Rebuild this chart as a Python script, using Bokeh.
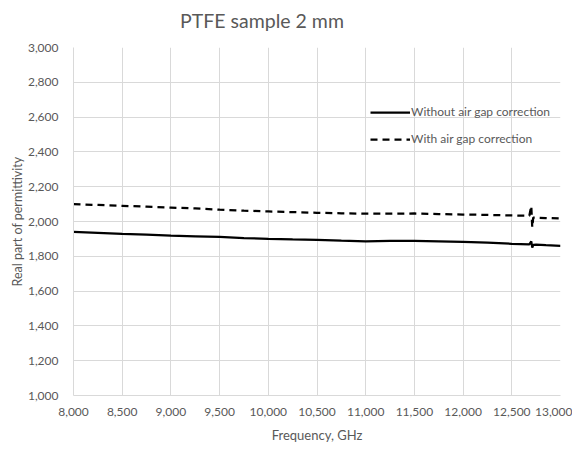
from bokeh.plotting import figure
from bokeh.embed import file_html
from bokeh.resources import INLINE
from bokeh.models import FixedTicker, Legend, LegendItem, Range1d, Div
from bokeh.layouts import column

# ---- data ----
freq = [8.0, 8.25, 8.5, 8.75, 9.0, 9.25, 9.5, 9.75, 10.0, 10.25, 10.5, 10.75,
        11.0, 11.25, 11.5, 11.75, 12.0, 12.25, 12.5, 12.68, 12.70, 12.71, 12.72,
        12.75, 12.85, 13.0]
without_corr = [1.940, 1.935, 1.929, 1.924, 1.919, 1.915, 1.911, 1.905, 1.900,
                1.897, 1.895, 1.890, 1.886, 1.888, 1.889, 1.886, 1.883, 1.878,
                1.872, 1.869, 1.886, 1.850, 1.866, 1.867, 1.864, 1.860]
with_corr = [2.100, 2.095, 2.090, 2.085, 2.080, 2.075, 2.068, 2.062, 2.058,
             2.054, 2.050, 2.047, 2.045, 2.045, 2.046, 2.043, 2.040, 2.038,
             2.035, 2.033, 2.090, 1.966, 2.022, 2.022, 2.020, 2.017]

x_ticks = [8.0, 8.5, 9.0, 9.5, 10.0, 10.5, 11.0, 11.5, 12.0, 12.5, 13.0]
x_labels = ["8,000", "8,500", "9,000", "9,500", "10,000", "10,500", "11,000",
            "11,500", "12,000", "12,500", "13,000"]
y_ticks = [1.0, 1.2, 1.4, 1.6, 1.8, 2.0, 2.2, 2.4, 2.6, 2.8, 3.0]
y_labels = ["1,000", "1,200", "1,400", "1,600", "1,800", "2,000", "2,200",
            "2,400", "2,600", "2,800", "3,000"]

title_text = "PTFE sample 2 mm"
x_title = "Frequency, GHz"
y_title = "Real part of permittivity"
series_names = ["Without air gap correction", "With air gap correction"]

FONT = "Lato"
GRAY = "#595959"
GRID = "#d9d9d9"
W = 572
TITLE_H = 39
H = 445 - TITLE_H

title_div = Div(text=title_text, width=524, height=TITLE_H, margin=0,
                styles={"font-family": FONT, "font-size": "19.5px",
                        "color": GRAY, "text-align": "center",
                        "padding-top": "9px", "line-height": "24px",
                        "width": "524px", "box-sizing": "border-box"})

p = figure(width=W, height=H, output_backend="svg", toolbar_location=None,
           x_range=Range1d(8.0, 13.0), y_range=Range1d(1.0, 3.0),
           min_border_left=73, min_border_right=12, min_border_top=8,
           min_border_bottom=48, margin=0)
p.outline_line_color = None
p.background_fill_color = "white"
p.border_fill_color = "white"

for ax in (p.xaxis[0], p.yaxis[0]):
    ax.axis_line_color = GRID
    ax.major_tick_line_color = None
    ax.minor_tick_line_color = None
    ax.major_label_text_font = FONT
    ax.major_label_text_font_size = "12px"
    ax.major_label_text_color = GRAY
    ax.axis_label_text_font = FONT
    ax.axis_label_text_color = GRAY
    ax.axis_label_text_font_style = "normal"

p.xaxis[0].axis_label_text_font_size = "13px"
p.yaxis[0].axis_label_text_font_size = "12.5px"
p.xaxis[0].ticker = FixedTicker(ticks=x_ticks)
p.xaxis[0].major_label_overrides = dict(zip(x_ticks, x_labels))
p.yaxis[0].ticker = FixedTicker(ticks=y_ticks)
p.yaxis[0].major_label_overrides = dict(zip(y_ticks, y_labels))
p.xaxis[0].axis_label = x_title
p.yaxis[0].axis_label = y_title
p.xaxis[0].major_label_standoff = 6
p.yaxis[0].major_label_standoff = 9
p.xaxis[0].axis_label_standoff = 8
p.yaxis[0].axis_label_standoff = 0

p.xgrid.grid_line_color = GRID
p.ygrid.grid_line_color = GRID
p.xgrid.grid_line_width = 1
p.ygrid.grid_line_width = 1

r1 = p.line(freq, without_corr, line_color="black", line_width=2.25)
r2 = p.line(freq, with_corr, line_color="black", line_width=2.25,
            line_dash="7 5")

legend = Legend(items=[LegendItem(label=series_names[0], renderers=[r1]),
                       LegendItem(label=series_names[1], renderers=[r2])],
                location=(297, 249), border_line_color=None,
                background_fill_alpha=0.0, label_text_font=FONT,
                label_text_font_size="12px", label_text_color=GRAY,
                glyph_width=40, glyph_height=14, spacing=12, padding=0,
                margin=0, label_standoff=1)
p.add_layout(legend, "center")

layout = column(title_div, p, spacing=0, margin=0)
open("out.html", "w").write(file_html(layout, INLINE))
